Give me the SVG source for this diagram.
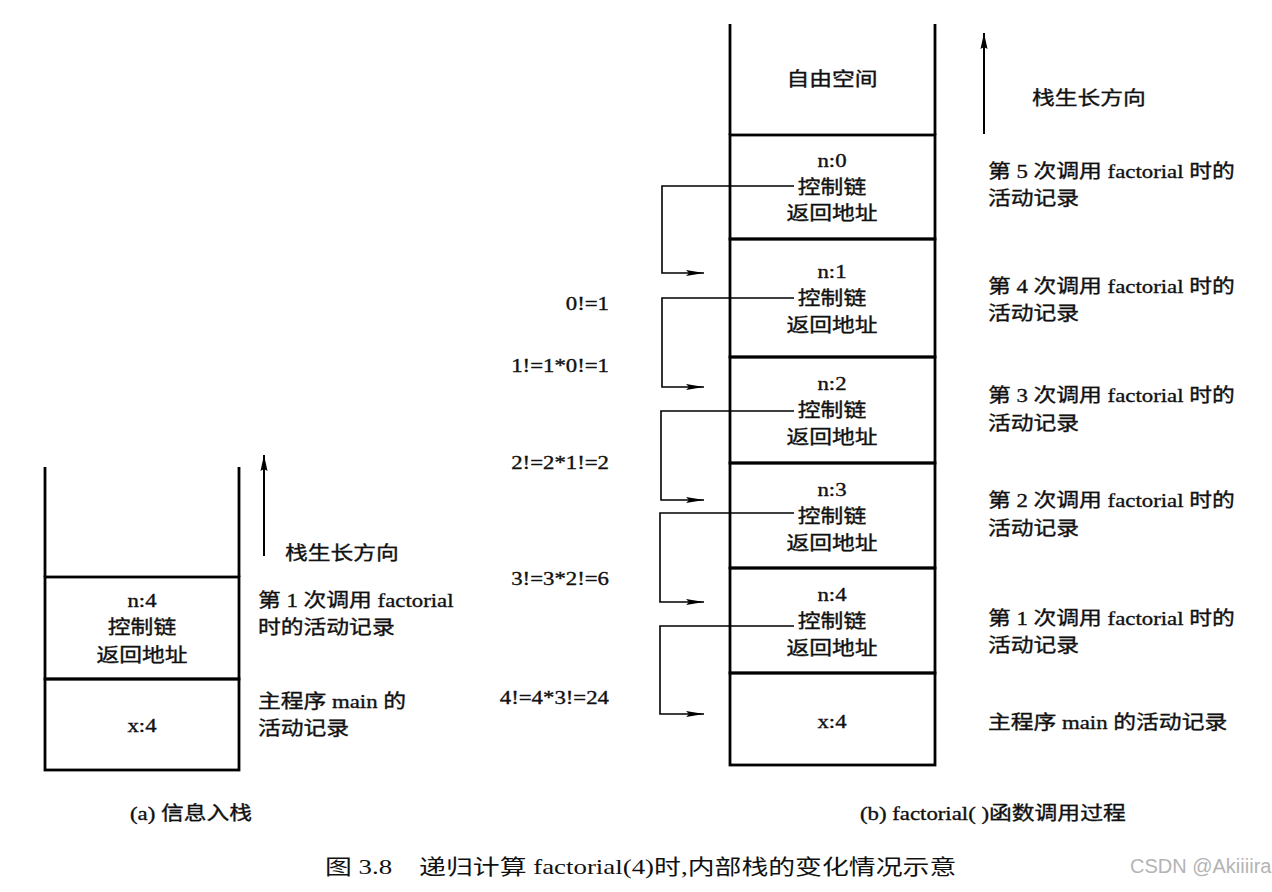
<svg xmlns="http://www.w3.org/2000/svg" width="1272" height="892" viewBox="0 0 1272 892">
<style>
.t { font-family: "Liberation Serif", "Noto Sans CJK SC", serif; font-size: 19px; fill: #111; stroke: #111; stroke-width: 0.35px; }
.m { text-anchor: middle; }
.e { text-anchor: end; }
.cap { font-size: 21px; white-space: pre; stroke: none; }
.frame { fill: none; stroke: #000; stroke-width: 2.8; }
.conn { fill: none; stroke: #000; stroke-width: 1.6; marker-end: url(#ah); }
.grow { fill: none; stroke: #000; stroke-width: 2; marker-end: url(#gh); }
.wm { font-family: "Liberation Sans", "Roboto", sans-serif; font-size: 20px; fill: #b4b4b4; }
</style>
<defs>
<marker id="ah" viewBox="0 0 18 7" refX="18" refY="3.5" markerWidth="18" markerHeight="7" markerUnits="userSpaceOnUse" orient="auto">
<path d="M0,0.6 L18,3.5 L0,6.4 L3,3.5 z" fill="#000"/>
</marker>
<marker id="gh" viewBox="0 0 16 8" refX="16" refY="4" markerWidth="16" markerHeight="8" markerUnits="userSpaceOnUse" orient="auto">
<path d="M0,0.5 L16,4 L0,7.5 L2,4 z" fill="#000"/>
</marker>
</defs>
<rect width="1272" height="892" fill="#fff"/>

<!-- (a) left stack -->
<g id="a-free">
<path class="frame" d="M45,467 V577 M239,467 V577"/>
</g>
<g id="a-n4">
<rect class="frame" x="45" y="577" width="194" height="102"/>
<text class="t m" transform="translate(142,607) scale(1.2,1)">n:4</text>
<text class="t m" transform="translate(142,634) scale(1.2,1)">控制链</text>
<text class="t m" transform="translate(142,662) scale(1.2,1)">返回地址</text>
</g>
<g id="a-main">
<rect class="frame" x="45" y="679" width="194" height="91"/>
<text class="t m" transform="translate(142,732) scale(1.2,1)">x:4</text>
</g>
<g id="a-labels">
<line class="grow" x1="264" y1="556" x2="264" y2="455"/>
<text class="t" transform="translate(285,560) scale(1.2,1)">栈生长方向</text>
<text class="t" transform="translate(258,607) scale(1.2,1)">第 1 次调用 factorial</text>
<text class="t" transform="translate(258,634) scale(1.2,1)">时的活动记录</text>
<text class="t" transform="translate(258,708) scale(1.2,1)">主程序 main 的</text>
<text class="t" transform="translate(258,735) scale(1.2,1)">活动记录</text>
<text class="t" transform="translate(130,820) scale(1.2,1)">(a) 信息入栈</text>
</g>

<!-- (b) right stack -->
<g id="b-free">
<path class="frame" d="M730,24 V135 M935,24 V135"/>
<text class="t m" transform="translate(832,86) scale(1.2,1)">自由空间</text>
</g>
<g id="b-n0">
<rect class="frame" x="730" y="135" width="205" height="104"/>
<text class="t m" transform="translate(832,167) scale(1.2,1)">n:0</text>
<text class="t m" transform="translate(832,194) scale(1.2,1)">控制链</text>
<text class="t m" transform="translate(832,220) scale(1.2,1)">返回地址</text>
</g>
<g id="b-n1">
<rect class="frame" x="730" y="239" width="205" height="118"/>
<text class="t m" transform="translate(832,278) scale(1.2,1)">n:1</text>
<text class="t m" transform="translate(832,305) scale(1.2,1)">控制链</text>
<text class="t m" transform="translate(832,332) scale(1.2,1)">返回地址</text>
</g>
<g id="b-n2">
<rect class="frame" x="730" y="357" width="205" height="106"/>
<text class="t m" transform="translate(832,390) scale(1.2,1)">n:2</text>
<text class="t m" transform="translate(832,417) scale(1.2,1)">控制链</text>
<text class="t m" transform="translate(832,444) scale(1.2,1)">返回地址</text>
</g>
<g id="b-n3">
<rect class="frame" x="730" y="463" width="205" height="105"/>
<text class="t m" transform="translate(832,496) scale(1.2,1)">n:3</text>
<text class="t m" transform="translate(832,523) scale(1.2,1)">控制链</text>
<text class="t m" transform="translate(832,550) scale(1.2,1)">返回地址</text>
</g>
<g id="b-n4">
<rect class="frame" x="730" y="568" width="205" height="105"/>
<text class="t m" transform="translate(832,601) scale(1.2,1)">n:4</text>
<text class="t m" transform="translate(832,628) scale(1.2,1)">控制链</text>
<text class="t m" transform="translate(832,655) scale(1.2,1)">返回地址</text>
</g>
<g id="b-main">
<rect class="frame" x="730" y="673" width="205" height="92"/>
<text class="t m" transform="translate(832,728) scale(1.2,1)">x:4</text>
</g>

<!-- connectors (control links) -->
<g id="connectors">
<path class="conn" d="M794,186 H662 V273 H704"/>
<path class="conn" d="M794,298 H662 V387 H704"/>
<path class="conn" d="M794,411 H661 V500 H704"/>
<path class="conn" d="M794,513 H660 V602 H704"/>
<path class="conn" d="M794,626 H660 V714 H704"/>
</g>

<!-- return values -->
<g id="b-values">
<text class="t e" transform="translate(609,310) scale(1.2,1)">0!=1</text>
<text class="t e" transform="translate(609,372) scale(1.2,1)">1!=1*0!=1</text>
<text class="t e" transform="translate(609,469) scale(1.2,1)">2!=2*1!=2</text>
<text class="t e" transform="translate(609,585) scale(1.2,1)">3!=3*2!=6</text>
<text class="t e" transform="translate(609,704) scale(1.2,1)">4!=4*3!=24</text>
</g>

<!-- right labels -->
<g id="b-labels">
<line class="grow" x1="984" y1="134" x2="984" y2="33"/>
<text class="t" transform="translate(1032,105) scale(1.2,1)">栈生长方向</text>
<text class="t" transform="translate(988,178) scale(1.2,1)">第 5 次调用 factorial 时的</text>
<text class="t" transform="translate(988,205) scale(1.2,1)">活动记录</text>
<text class="t" transform="translate(988,293) scale(1.2,1)">第 4 次调用 factorial 时的</text>
<text class="t" transform="translate(988,320) scale(1.2,1)">活动记录</text>
<text class="t" transform="translate(988,402) scale(1.2,1)">第 3 次调用 factorial 时的</text>
<text class="t" transform="translate(988,430) scale(1.2,1)">活动记录</text>
<text class="t" transform="translate(988,507) scale(1.2,1)">第 2 次调用 factorial 时的</text>
<text class="t" transform="translate(988,535) scale(1.2,1)">活动记录</text>
<text class="t" transform="translate(988,625) scale(1.2,1)">第 1 次调用 factorial 时的</text>
<text class="t" transform="translate(988,652) scale(1.2,1)">活动记录</text>
<text class="t" transform="translate(988,729) scale(1.2,1)">主程序 main 的活动记录</text>
<text class="t" transform="translate(860,820) scale(1.2,1)">(b) factorial( )函数调用过程</text>
</g>

<!-- caption -->
<g id="caption">
<text class="t cap" transform="translate(325,874) scale(1.28,1)">图 3.8    递归计算 factorial(4)时,内部栈的变化情况示意</text>
<text class="wm" x="1130" y="873">CSDN @Akiiiira</text>
</g>
</svg>
